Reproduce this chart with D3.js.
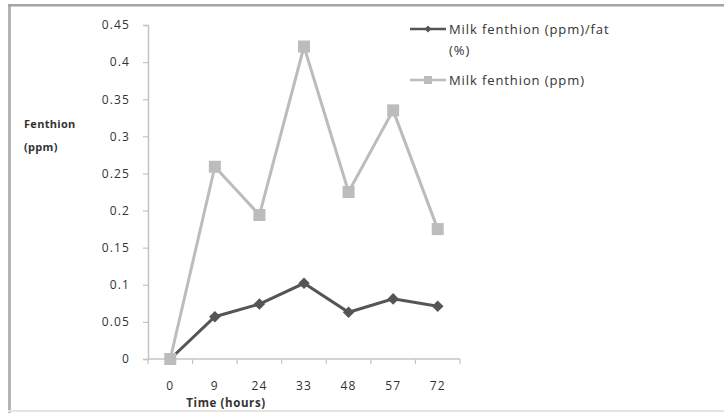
<!DOCTYPE html>
<html>
<head>
<meta charset="utf-8">
<script src="https://cdn.jsdelivr.net/npm/d3@7"></script>
<style>
  body { margin: 0; background: #fff; }
  text { font-family: "Open Sans", sans-serif; fill: #333; }
</style>
</head>
<body>
<div class="chart"></div>
<script>
//DATA ***********************************************************************
const hours = ["0", "9", "24", "33", "48", "57", "72"];
const perFat = [0, 0.057, 0.074, 0.102, 0.063, 0.081, 0.071]; //Milk fenthion (ppm)/fat (%)
const milkPpm = [0, 0.259, 0.194, 0.421, 0.225, 0.335, 0.175]; //Milk fenthion (ppm)
const yTicks = [0, 0.05, 0.1, 0.15, 0.2, 0.25, 0.3, 0.35, 0.4, 0.45];

//LAYOUT *********************************************************************
const width = 724, height = 413;
const plotLeft = 148, plotRight = 460, plotTop = 25, plotBottom = 359;

const svg = d3.select(".chart").
append("svg").
attr("width", width).
attr("height", height);

//frame around the picture (left + top darker, bottom faint)
svg.append("rect").attr("x", 8).attr("y", 4).attr("width", 3).attr("height", height).attr("fill", "#b4b4b4");
svg.append("rect").attr("x", 8).attr("y", 4).attr("width", width).attr("height", 2.5).attr("fill", "#a4a4a4");
svg.append("rect").attr("x", 8).attr("y", 410).attr("width", width).attr("height", 2).attr("fill", "#e4e4e4");

//SCALES *********************************************************************
const xBand = d3.scaleBand().domain(hours).range([plotLeft, plotRight]);
const x = d => xBand(d) + xBand.bandwidth() / 2;
const y = d3.scaleLinear().domain([0, 0.45]).range([plotBottom, plotTop]);

//AXES ***********************************************************************
const yAxis = d3.axisLeft(y).
tickValues(yTicks).
tickSize(5).
tickPadding(13).
tickFormat(d => String(+d.toFixed(2)));

const gy = svg.append("g").attr("transform", `translate(${plotLeft},0)`).call(yAxis);
gy.select(".domain").attr("stroke", "#c4c4c4").attr("stroke-width", 1.5);
gy.selectAll(".tick line").attr("stroke", "#c4c4c4").attr("stroke-width", 1.2);
gy.selectAll(".tick text").attr("font-size", 12).attr("letter-spacing", 1.1).attr("fill", "#333").
style("font-family", "Open Sans");

//x axis: category axis with ticks at the boundaries
const gx = svg.append("g").attr("transform", `translate(0,${plotBottom})`);
gx.append("line").attr("x1", plotLeft).attr("x2", plotRight).attr("stroke", "#c4c4c4").attr("stroke-width", 1.5);
const bounds = hours.map(h => xBand(h)).concat([plotRight]);
gx.selectAll(".xt").data(bounds).enter().append("line").
attr("x1", d => d).attr("x2", d => d).attr("y1", 0).attr("y2", 5).
attr("stroke", "#c4c4c4").attr("stroke-width", 1.2);
gx.selectAll(".xl").data(hours).enter().append("text").
attr("x", d => x(d)).attr("y", 31).attr("text-anchor", "middle").
attr("font-size", 12).attr("letter-spacing", 1.1).text(d => d);

//axis titles
svg.append("text").attr("x", 24).attr("y", 128).attr("font-size", 11).attr("font-weight", "bold").
attr("letter-spacing", 0.3).text("Fenthion");
svg.append("text").attr("x", 24).attr("y", 151).attr("font-size", 11).attr("font-weight", "bold").
attr("letter-spacing", 0.3).text("(ppm)");
svg.append("text").attr("x", 226).attr("y", 407).attr("text-anchor", "middle").attr("font-size", 11.5).
attr("font-weight", "bold").attr("letter-spacing", 0.6).text("Time (hours)");

//LINES **********************************************************************
const line = d3.line().x(d => x(d[0])).y(d => y(d[1]));
const grey = "#bcbcbc", dark = "#555555";

svg.append("path").datum(hours.map((h, i) => [h, milkPpm[i]])).
attr("d", line).attr("fill", "none").attr("stroke", grey).attr("stroke-width", 3);
svg.append("path").datum(hours.map((h, i) => [h, perFat[i]])).
attr("d", line).attr("fill", "none").attr("stroke", dark).attr("stroke-width", 3);

const diamond = d3.symbol().type(d3.symbolDiamond2).size(85);
svg.selectAll(".dia").data(hours.map((h, i) => [h, perFat[i]])).enter().append("path").
attr("d", diamond).attr("transform", d => `translate(${x(d[0])},${y(d[1])})`).
attr("fill", dark);

svg.selectAll(".sq").data(hours.map((h, i) => [h, milkPpm[i]])).enter().append("rect").
attr("x", d => x(d[0]) - 6).attr("y", d => y(d[1]) - 6).
attr("width", 12).attr("height", 12).attr("fill", grey);

//LEGEND *********************************************************************
const lg = svg.append("g");
lg.append("line").attr("x1", 410).attr("x2", 446).attr("y1", 29).attr("y2", 29).attr("stroke", dark).attr("stroke-width", 2.5);
lg.append("path").attr("d", d3.symbol().type(d3.symbolDiamond2).size(30)).attr("transform", "translate(428,29)").attr("fill", dark);
lg.append("text").attr("x", 449).attr("y", 34).attr("font-size", 13).attr("letter-spacing", 0.9).text("Milk fenthion (ppm)/fat");
lg.append("text").attr("x", 449).attr("y", 55).attr("font-size", 13).attr("letter-spacing", 0.9).text("(%)");

lg.append("line").attr("x1", 410).attr("x2", 446).attr("y1", 80).attr("y2", 80).attr("stroke", grey).attr("stroke-width", 2.5);
lg.append("rect").attr("x", 424).attr("y", 76).attr("width", 8).attr("height", 8).attr("fill", grey);
lg.append("text").attr("x", 449).attr("y", 85).attr("font-size", 13).attr("letter-spacing", 0.9).text("Milk fenthion (ppm)");
</script>
</body>
</html>
